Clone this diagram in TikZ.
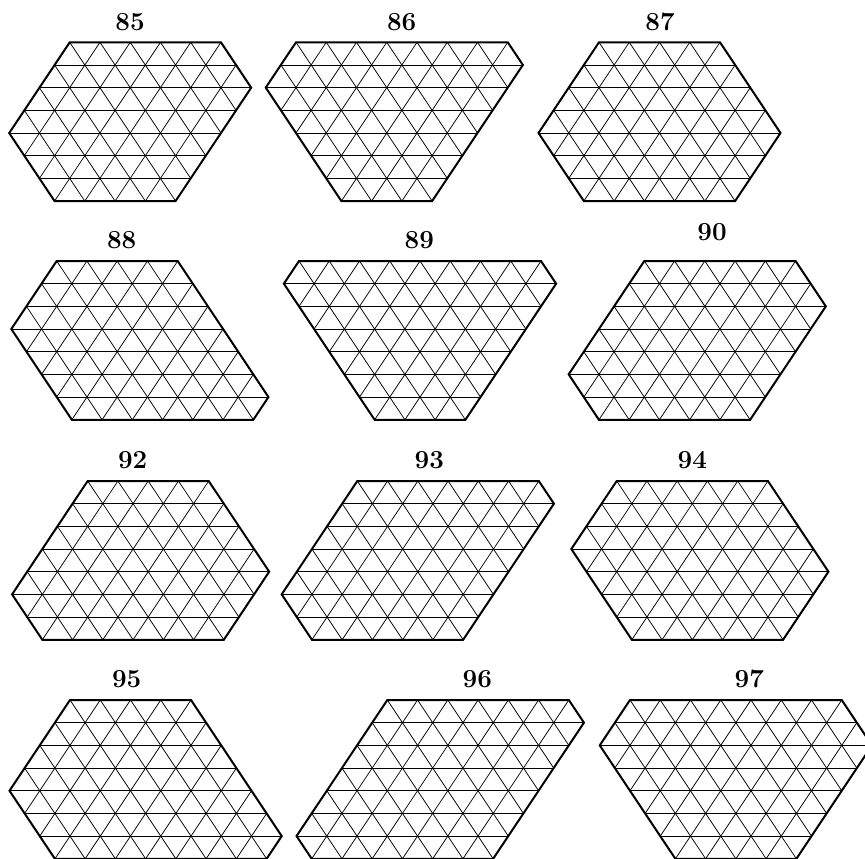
\documentclass[tikz,border=0pt]{standalone}
\tikzset{
  gridln/.style={line width=0.75pt},
  bord/.style={line width=2pt, line join=miter},
  lab/.style={font=\fontsize{26}{30}\selectfont\bfseries, inner sep=0pt}
}
% #1,#2: top-left vertex (px); #3 top, #4 upper-right, #5 lower-right, #6 bottom, #7 upper-left side
\newcommand{\latpoly}[7]{%
\begin{scope}[xshift=#1pt, yshift=-#2pt, x={(30.25pt,0pt)}, y={(0pt,-22.68pt)}]
  \begin{scope}
    \clip (0,0) -- (#3,0) -- ({#3+#4/2},#4) -- ({#3+#4/2-#5/2},7) -- ({#3+#4/2-#5/2-#6},7) -- ({-#7/2},#7) -- cycle;
    \foreach \v in {1,...,6} \draw[gridln] (-6,\v) -- (14,\v);
    \foreach \c in {-8,...,14} {\draw[gridln] (\c,0) -- ({\c+4},8); \draw[gridln] (\c,0) -- ({\c-4},8);}
  \end{scope}
  \draw[bord] (0,0) -- (#3,0) -- ({#3+#4/2},#4) -- ({#3+#4/2-#5/2},7) -- ({#3+#4/2-#5/2-#6},7) -- ({-#7/2},#7) -- cycle;
\end{scope}}
\begin{document}
\begin{tikzpicture}[x=1pt, y=-1pt]
\useasboundingbox (0,0) rectangle (865,859);
\clip (0,0) rectangle (865,859);
\fill[white] (0,0) rectangle (865,859);
% row 1
\latpoly{69.7}{42.3}{5}{2}{5}{4}{4}
\latpoly{296}{42.3}{7}{1}{6}{3}{2}
\latpoly{599}{42.3}{4}{4}{3}{5}{4}
% row 2
\latpoly{56.7}{261}{4}{6}{1}{6}{3}
\latpoly{299}{261}{8}{1}{6}{3}{1}
\latpoly{644.3}{261}{5}{2}{5}{5}{5}
% row 3
\latpoly{87.7}{481}{4}{4}{3}{6}{5}
\latpoly{357.3}{481}{6}{1}{6}{5}{5}
\latpoly{616.7}{481}{5}{4}{3}{5}{3}
% row 4
\latpoly{70}{700}{4}{6}{1}{7}{4}
\latpoly{387.3}{700}{6}{1}{6}{6}{6}
\latpoly{630}{700}{7}{2}{5}{4}{2}
% labels
\node[lab] (l85) at (130,21.7) {85};
\node[lab] (l86) at (401.7,21.7) {86};
\node[lab] (l87) at (660,21.7) {87};
\node[lab] (l88) at (121.7,240) {88};
\node[lab] (l89) at (419.3,240) {89};
\node[lab] (l90) at (712,232) {90};
\node[lab] (l92) at (132.7,460) {92};
\node[lab] (l93) at (429.3,460) {93};
\node[lab] (l94) at (692.3,460) {94};
\node[lab] (l95) at (126.7,679) {95};
\node[lab] (l96) at (477.3,679) {96};
\node[lab] (l97) at (749.3,679) {97};
\end{tikzpicture}
\end{document}
